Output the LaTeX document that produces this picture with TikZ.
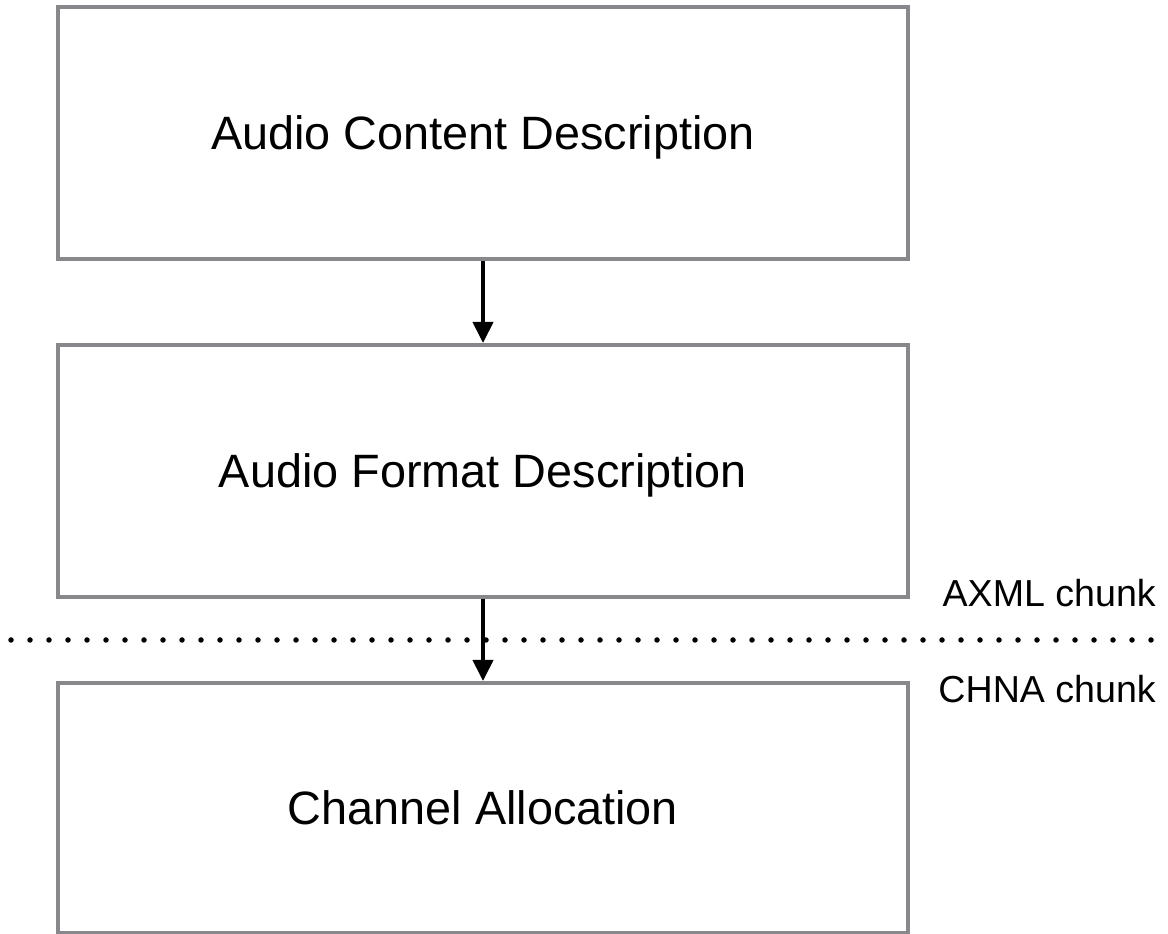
\documentclass[tikz,border=0pt]{standalone}
\usepackage{fontspec}
\setmainfont{Liberation Sans}
\usetikzlibrary{arrows.meta}
\definecolor{boxgray}{RGB}{136,136,140}
\begin{document}
\begin{tikzpicture}[x=1pt,y=1pt,
  blockbox/.style={draw=boxgray, line width=4pt, minimum width=850pt, inner sep=0pt,
    font=\fontsize{46.8}{52}\selectfont, text=black, text height=33.5pt, text depth=0pt},
  flowarrow/.style={line width=4pt, -{Triangle[width=20pt,length=21pt]}},
  chunklabel/.style={font=\fontsize{37.6}{42}\selectfont, inner sep=0pt, anchor=base east},
  sepline/.style={line width=5.5pt, line cap=round, dash pattern=on 0pt off 19pt}]
\useasboundingbox (0,0) rectangle (1168,934);
\node[blockbox, minimum height=251.5pt] (b1) at (483,800.75) {Audio Content Description};
\node[blockbox, minimum height=252pt] (b2) at (483,463) {Audio Format Description};
\node[blockbox, minimum height=250pt] (b3) at (483,126) {Channel Allocation};
\coordinate (sl) at (11,294);
\coordinate (sr) at (1168,294);
\draw[sepline] (sl) -- (sr);
\draw[flowarrow] (b1.south) -- (b2.north);
\draw[flowarrow] (b2.south) -- (b3.north);
\node[chunklabel] (axml) at (1156,327) {AXML chunk};
\node[chunklabel] (chna) at (1156,231) {CHNA chunk};
\end{tikzpicture}
\end{document}
